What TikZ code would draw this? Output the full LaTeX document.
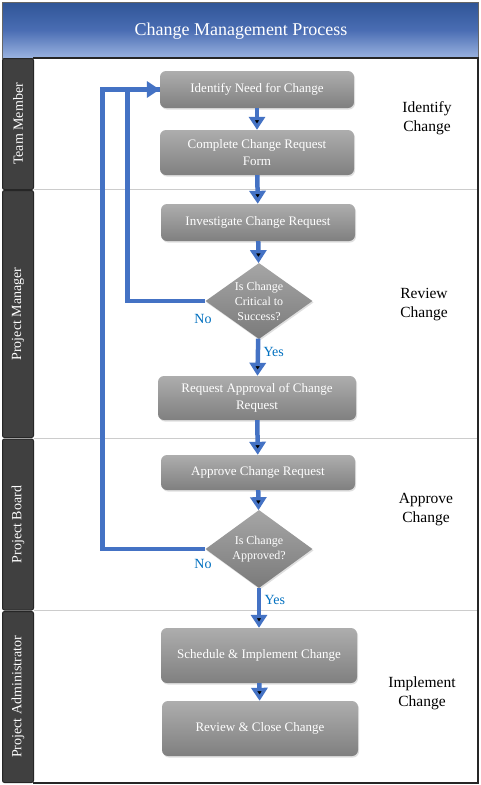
\documentclass[tikz,border=0pt]{standalone}
\usepackage{fontspec}
\setmainfont{Liberation Serif}
\usepackage{tikz}
\usetikzlibrary{arrows.meta}
\usetikzlibrary{positioning}
\usetikzlibrary{shapes.geometric}
\usetikzlibrary{shadows}

\definecolor{flowblue}{HTML}{4472C4}
\definecolor{labelblue}{HTML}{0070C0}
\definecolor{lanegray}{HTML}{404040}
\definecolor{titletop}{HTML}{2F5597}
\definecolor{titlemid}{HTML}{4A6DB3}
\definecolor{titlebot}{HTML}{9AB3E0}

\begin{document}
\begin{tikzpicture}[x=1pt, y=-1pt,
        flow/.style={draw=flowblue, line width=4.5pt, -{Triangle[width=16pt,length=13pt]}},
        task/.style={rectangle, rounded corners=6pt, minimum width=194pt, minimum height=37pt,
          top color=black!32, bottom color=black!50, draw=none, text=white,
          align=center, font=\fontsize{13}{17}\selectfont,
          drop shadow={shadow xshift=1pt, shadow yshift=-1.5pt, opacity=0.25}},
        decide/.style={diamond, aspect=1.45, minimum width=107pt, minimum height=76pt, inner sep=0pt,
          top color=black!35, bottom color=black!52, draw=none, text=white,
          align=center, font=\fontsize{12}{15}\selectfont,
          drop shadow={shadow xshift=1pt, shadow yshift=-1.5pt, opacity=0.25}},
        lane/.style={rectangle, rounded corners=2pt, fill=lanegray, draw=black!85, line width=1pt},
        lanetext/.style={rotate=90, text=white, font=\fontsize{14}{16}\selectfont},
        phase/.style={align=center, font=\fontsize{15.5}{19}\selectfont},
        answer/.style={text=labelblue, font=\fontsize{14}{16}\selectfont}]

      \useasboundingbox (0,0) rectangle (481,785);
      \fill[white] (0,0) rectangle (481,785);

      % title bar
      \shade[top color=titletop, bottom color=titlebot, middle color=titlemid,
        draw=black!60, line width=0.6pt]
        (2,2) rectangle (478,58);
      \node[text=white, font=\fontsize{18}{20}\selectfont] (title) at (241,31) {Change Management Process};

      % frame
      \draw[black!85, line width=1.5pt] (33,58) -- (478,58) -- (478,783) -- (33,783);

      % swim lanes
      \node[lane, minimum width=31pt, minimum height=131pt] (l_1) at (18,124) {};
      \node[lane, minimum width=31pt, minimum height=247pt] (l_2) at (18,314) {};
      \node[lane, minimum width=31pt, minimum height=171pt] (l_3) at (18,524.5) {};
      \node[lane, minimum width=31pt, minimum height=171pt] (l_4) at (18,697) {};
      \node[lanetext] at (l_1) {Team Member};
      \node[lanetext] at (l_2) {Project Manager};
      \node[lanetext] at (l_3) {Project Board};
      \node[lanetext] at (l_4) {Project Administrator};

      \draw[black!20, line width=1.5pt] (34,189.5) -- (477,189.5);
      \draw[black!20, line width=1.5pt] (34,438.5) -- (477,438.5);
      \draw[black!20, line width=1.5pt] (34,610.5) -- (477,610.5);

      % steps
      \node[task] (n_1) at (257,89.5) {Identify Need for Change};
      \node[task, minimum height=45pt] (n_2) at (257,152.5) {Complete Change Request\\Form};
      \node[task] (n_3) at (258,222.5) {Investigate Change Request};
      \node[decide] (d_1) at (259,301) {Is Change\\Critical to\\Success?};
      \node[task, minimum width=198pt, minimum height=44pt] (n_4) at (257,398) {Request Approval of Change\\Request};
      \node[task, minimum height=35pt] (n_5) at (258,472.5) {Approve Change Request};
      \node[decide, minimum height=78pt] (d_2) at (259,549) {Is Change\\Approved?};
      \node[task, minimum width=196pt, minimum height=55pt] (n_6) at (259,655.5) {Schedule \& Implement Change};
      \node[task, minimum width=196pt, minimum height=55pt] (n_7) at (260,728.5) {Review \& Close Change};

      % phases
      \node[phase] (p_1) at (427,118) {Identify\\Change};
      \node[phase] (p_2) at (424,305) {Review\\Change};
      \node[phase] (p_3) at (426,510) {Approve\\Change};
      \node[phase] (p_4) at (422,693) {Implement\\Change};

      % connectors
      \path[flow]
        (n_1) edge (n_2)
        (n_2) edge (n_3)
        (n_3) edge (d_1)
        (d_1) edge node[answer, right, pos=0.35] {Yes} (n_4)
        (n_4) edge (n_5)
        (n_5) edge (d_2)
        (d_2) edge node[answer, right, pos=0.3] {Yes} (n_6)
        (n_6) edge (n_7);

      \draw[flow, -] (d_1.west) -- ++(-78,0) |- (n_1.west);
      \draw[flow] (d_2.west) -- ++(-103,0) |- (n_1.west);
      \node[answer] (no_1) at (203,319) {No};
      \node[answer] (no_2) at (203,564) {No};

\end{tikzpicture}
\end{document}
